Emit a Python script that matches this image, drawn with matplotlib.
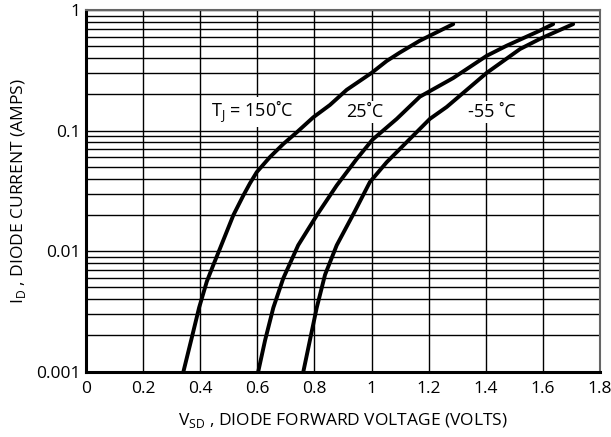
import matplotlib
matplotlib.use("Agg")
import matplotlib.pyplot as plt
from matplotlib.ticker import FixedLocator, NullFormatter, LogLocator

plt.rcParams["font.family"] = ["Open Sans", "DejaVu Sans"]
plt.rcParams["mathtext.fontset"] = "custom"
plt.rcParams["mathtext.rm"] = "Open Sans"

# courbes (V, A)
v_150 = [0.341, 0.370, 0.396, 0.423, 0.446, 0.469, 0.516, 0.551, 0.574, 0.598, 0.644, 0.691, 0.738, 0.796, 0.854, 0.913, 1.000, 1.053, 1.099, 1.169, 1.286]
i_150 = [0.001, 0.0019, 0.0034, 0.0056, 0.0077, 0.0105, 0.0199, 0.029, 0.0365, 0.0453, 0.0603, 0.0775, 0.0968, 0.129, 0.163, 0.218, 0.301, 0.378, 0.444, 0.557, 0.765]

v_25 = [0.603, 0.627, 0.656, 0.691, 0.743, 0.812, 0.878, 0.948, 1.003, 1.088, 1.169, 1.286, 1.403, 1.473, 1.590, 1.636]
i_25 = [0.001, 0.00182, 0.0034, 0.00597, 0.0112, 0.0205, 0.0351, 0.0582, 0.084, 0.125, 0.191, 0.273, 0.417, 0.506, 0.676, 0.765]

v_m55 = [0.761, 0.784, 0.808, 0.837, 0.878, 0.940, 0.994, 1.053, 1.204, 1.263, 1.403, 1.520, 1.590, 1.706]
i_m55 = [0.001, 0.00182, 0.0034, 0.00637, 0.0112, 0.0211, 0.0374, 0.0547, 0.125, 0.157, 0.301, 0.475, 0.577, 0.765]

x_ticks = [0, 0.2, 0.4, 0.6, 0.8, 1.0, 1.2, 1.4, 1.6, 1.8]
x_labels = ["0", "0.2", "0.4", "0.6", "0.8", "1", "1.2", "1.4", "1.6", "1.8"]
y_ticks = [0.001, 0.01, 0.1, 1]
y_labels = ["0.001", "0.01", "0.1", "1"]

fig = plt.figure(figsize=(6.11, 4.37), dpi=100)
ax = fig.add_axes([0.1408, 0.1494, 0.982 - 0.1408, 0.977 - 0.1494])

ax.set_yscale("log")
ax.set_xlim(0, 1.8)
ax.set_ylim(0.001, 1)

ax.xaxis.set_major_locator(FixedLocator(x_ticks))
ax.set_xticklabels(x_labels)
ax.yaxis.set_major_locator(FixedLocator(y_ticks))
ax.set_yticklabels(y_labels)
ax.yaxis.set_minor_locator(LogLocator(base=10, subs=range(2, 10)))
ax.yaxis.set_minor_formatter(NullFormatter())
ax.tick_params(which="both", length=0, labelsize=12.5)
ax.tick_params(axis="x", pad=7)
ax.tick_params(axis="y", pad=4)

ax.grid(True, which="major", axis="x", color="black", linewidth=1.0)
ax.grid(True, which="both", axis="y", color="black", linewidth=1.0)
ax.set_axisbelow(True)

for courbe_v, courbe_i in [(v_150, i_150), (v_25, i_25), (v_m55, i_m55)]:
    ax.plot(courbe_v, courbe_i, color="black", linewidth=2.8,
            solid_capstyle="round", solid_joinstyle="round")

boite = dict(facecolor="white", edgecolor="none", pad=1.5)
ax.text(0.583, 0.143, "T$_\\mathregular{J}$ = 150˚C", fontsize=13, ha="center", va="center", bbox=boite)
ax.text(0.977, 0.143, "25˚C", fontsize=13, ha="center", va="center", bbox=boite)
ax.text(1.423, 0.143, "-55 ˚C", fontsize=13, ha="center", va="center", bbox=boite)

ax.set_xlabel("V$_\\mathregular{SD}$ , DIODE FORWARD VOLTAGE (VOLTS)", fontsize=12.5, labelpad=10)
ax.set_ylabel("I$_\\mathregular{D}$ , DIODE CURRENT (AMPS)", fontsize=12.5, labelpad=6)

ax.spines["left"].set_linewidth(2.2)
ax.spines["bottom"].set_linewidth(2.2)
ax.spines["top"].set_color("#666666")
ax.spines["right"].set_color("#666666")
ax.spines["top"].set_linewidth(1.5)
ax.spines["right"].set_linewidth(1.5)

fig.savefig("out.png", dpi=100)
